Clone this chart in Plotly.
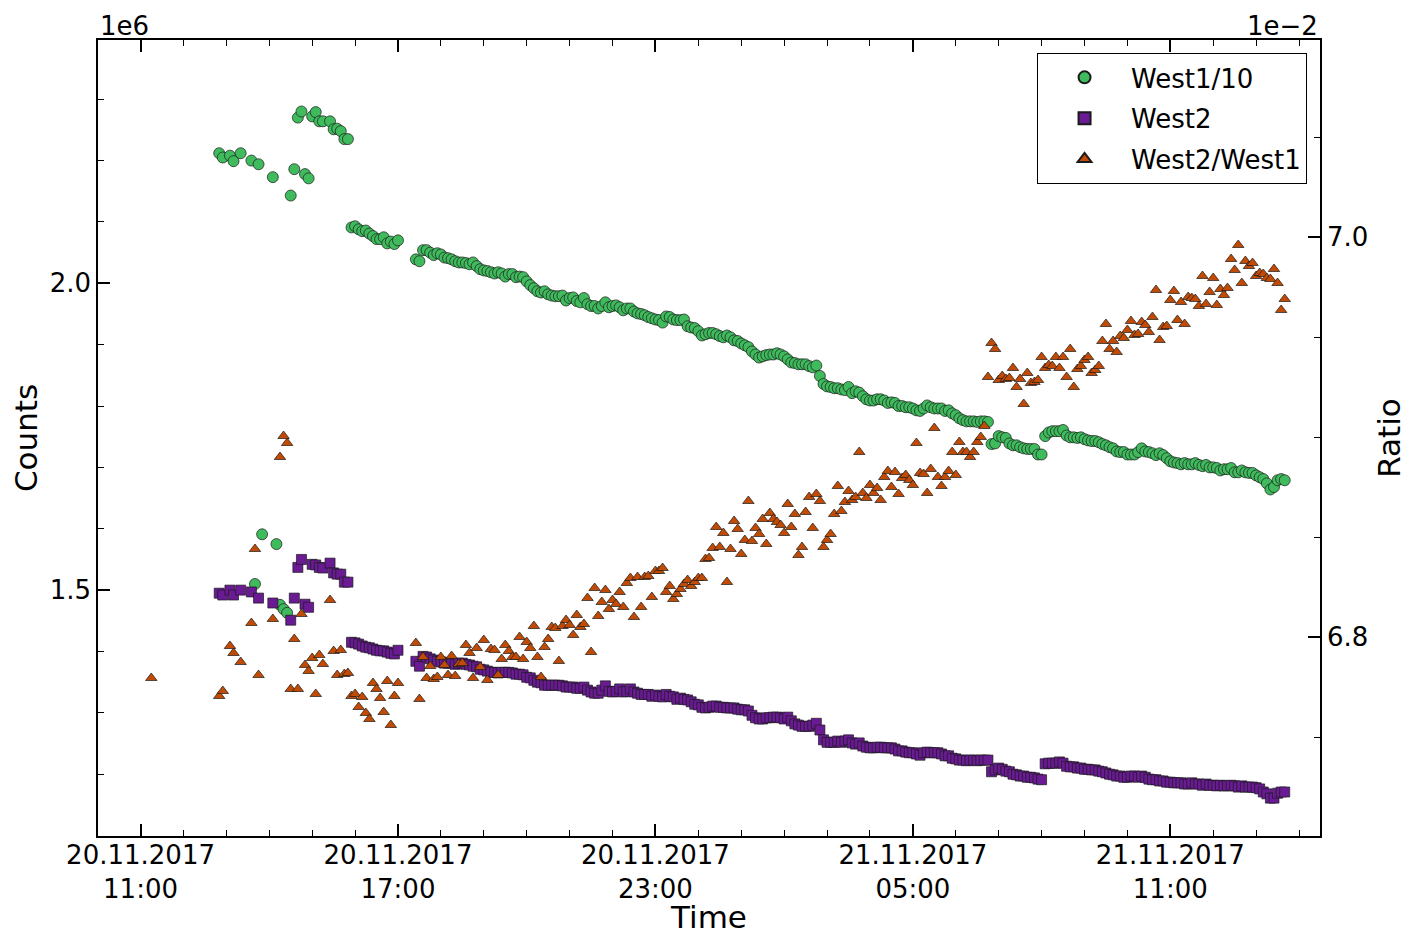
import pandas as pd
import plotly.graph_objects as go

# ---------------- data ----------------
# one isolated early sample, then a regular 5-minute sampling grid
extra_time = ["2017-11-20 11:15"]
grid_time = [t.strftime("%Y-%m-%d %H:%M") for t in pd.date_range("2017-11-20 12:50", periods=299, freq="5min")]
time = extra_time + grid_time

# West1/10 counts, in units of 1e6
west1_div10 = [None] + [
    2.212, 2.205, None, 2.208, 2.199, None, 2.212, None, None, 2.200,
    1.510, 2.194, 1.591, None, None, 2.173, 1.575, 1.476, 1.469, 1.463,
    2.143, 2.186, 2.270, 2.280, 2.178, 2.171, 2.272, 2.279, 2.264, 2.264,
    None, 2.264, 2.251, 2.252, 2.248, 2.235, 2.235, 2.091, 2.093, 2.088,
    2.085, 2.086, 2.081, 2.077, 2.072, 2.072, 2.075, 2.065, 2.068, 2.064,
    2.070, None, None, None, None, 2.039, 2.036, 2.054, 2.054, 2.050,
    2.046, 2.049, 2.047, 2.042, 2.041, 2.039, 2.036, 2.034, 2.034, 2.033,
    2.031, 2.034, 2.028, 2.023, 2.021, 2.020, 2.018, 2.016, 2.018, 2.016,
    2.011, 2.015, 2.015, 2.010, 2.011, 2.010, 2.003, 1.997, 1.992, 1.987,
    1.985, 1.987, 1.982, 1.980, 1.979, 1.979, 1.980, 1.972, 1.976, 1.977,
    1.971, 1.969, 1.976, 1.966, 1.963, 1.963, 1.959, 1.963, 1.969, 1.961,
    1.963, 1.964, 1.961, 1.956, 1.959, 1.959, 1.954, 1.951, 1.950, 1.948,
    1.945, 1.943, 1.941, 1.940, 1.936, 1.946, 1.945, 1.941, 1.940, 1.940,
    1.941, 1.930, 1.928, 1.927, 1.922, 1.915, 1.917, 1.919, 1.919, 1.917,
    1.914, 1.912, 1.915, 1.912, 1.907, 1.906, 1.902, 1.899, 1.896, 1.889,
    1.884, 1.879, 1.881, 1.883, 1.884, 1.884, 1.886, 1.884, 1.881, 1.876,
    1.871, 1.870, 1.868, 1.868, 1.868, 1.865, 1.863, 1.866, 1.849, 1.836,
    1.832, 1.831, 1.829, 1.829, 1.827, 1.826, 1.831, 1.821, 1.824, 1.822,
    1.816, 1.811, 1.809, 1.809, 1.811, 1.811, 1.809, 1.805, 1.806, 1.805,
    1.800, 1.800, 1.798, 1.798, 1.796, 1.793, 1.792, 1.796, 1.801, 1.798,
    1.796, 1.796, 1.796, 1.792, 1.793, 1.788, 1.785, 1.780, 1.777, 1.775,
    1.775, 1.775, 1.774, 1.775, 1.775, 1.774, 1.738, 1.739, 1.751, 1.749,
    1.748, 1.739, 1.736, 1.736, 1.733, 1.731, 1.730, 1.730, 1.730, 1.721,
    1.721, 1.751, 1.757, 1.759, 1.759, 1.759, 1.761, 1.752, 1.749, 1.749,
    1.748, 1.749, 1.746, 1.744, 1.743, 1.743, 1.741, 1.738, 1.736, 1.733,
    1.731, 1.726, 1.725, 1.725, 1.721, 1.721, 1.721, 1.725, 1.731, 1.726,
    1.725, 1.723, 1.720, 1.723, 1.720, 1.715, 1.710, 1.708, 1.707, 1.705,
    1.707, 1.705, 1.705, 1.707, 1.704, 1.702, 1.704, 1.700, 1.700, 1.699,
    1.695, 1.697, 1.697, 1.699, 1.692, 1.692, 1.695, 1.692, 1.691, 1.691,
    1.687, 1.684, 1.681, 1.674, 1.664, 1.668, 1.679, 1.681, 1.679,
]

# West2 counts, in units of 1e6
west2 = [None] + [
    1.495, 1.492, None, 1.500, 1.492, None, 1.500, None, None, 1.497,
    None, 1.487, None, None, None, 1.479, None, None, None, None,
    1.451, 1.487, 1.537, 1.550, 1.477, 1.472, 1.542, 1.541, 1.537, 1.536,
    None, 1.544, 1.528, 1.526, 1.526, 1.513, 1.513, 1.415, 1.414, 1.412,
    1.409, 1.407, 1.406, 1.404, 1.402, 1.401, 1.401, 1.399, 1.397, 1.396,
    1.402, None, None, None, None, 1.384, 1.376, 1.392, 1.391, 1.388,
    1.386, 1.384, 1.383, 1.381, 1.381, 1.381, 1.379, 1.381, 1.381, 1.379,
    1.378, 1.376, 1.375, 1.371, 1.370, 1.368, 1.366, 1.366, 1.365, 1.366,
    1.366, 1.366, 1.365, 1.363, 1.363, 1.362, 1.358, 1.357, 1.353, 1.350,
    1.349, 1.345, 1.345, 1.345, 1.345, 1.345, 1.344, 1.342, 1.342, 1.342,
    1.340, 1.340, 1.342, 1.337, 1.334, 1.332, 1.332, 1.337, 1.344, 1.335,
    1.334, 1.335, 1.339, 1.334, 1.335, 1.339, 1.334, 1.332, 1.330, 1.330,
    1.330, 1.327, 1.329, 1.327, 1.326, 1.330, 1.327, 1.326, 1.322, 1.324,
    1.322, 1.321, 1.318, 1.314, 1.313, 1.309, 1.308, 1.309, 1.311, 1.311,
    1.309, 1.309, 1.308, 1.308, 1.308, 1.306, 1.305, 1.305, 1.303, 1.296,
    1.292, 1.290, 1.290, 1.292, 1.292, 1.293, 1.293, 1.292, 1.290, 1.293,
    1.287, 1.282, 1.280, 1.278, 1.278, 1.278, 1.280, 1.283, 1.272, 1.256,
    1.252, 1.252, 1.252, 1.254, 1.252, 1.254, 1.256, 1.251, 1.249, 1.251,
    1.246, 1.244, 1.243, 1.243, 1.244, 1.244, 1.243, 1.243, 1.243, 1.241,
    1.238, 1.238, 1.236, 1.235, 1.235, 1.233, 1.231, 1.235, 1.236, 1.235,
    1.235, 1.235, 1.233, 1.230, 1.230, 1.226, 1.225, 1.223, 1.223, 1.222,
    1.223, 1.223, 1.222, 1.223, 1.223, 1.223, 1.204, 1.207, 1.210, 1.208,
    1.205, 1.204, 1.200, 1.199, 1.197, 1.197, 1.195, 1.195, 1.194, 1.192,
    1.191, 1.217, 1.218, 1.218, 1.218, 1.220, 1.218, 1.213, 1.212, 1.212,
    1.210, 1.210, 1.208, 1.208, 1.207, 1.207, 1.205, 1.204, 1.202, 1.200,
    1.199, 1.197, 1.197, 1.195, 1.195, 1.197, 1.197, 1.195, 1.197, 1.195,
    1.192, 1.191, 1.191, 1.189, 1.189, 1.187, 1.187, 1.186, 1.186, 1.186,
    1.184, 1.184, 1.186, 1.184, 1.184, 1.182, 1.184, 1.182, 1.182, 1.181,
    1.182, 1.181, 1.181, 1.182, 1.181, 1.179, 1.181, 1.179, 1.179, 1.179,
    1.178, 1.176, 1.171, 1.168, 1.161, 1.161, 1.169, 1.171, 1.171,
]

# West2/West1 ratio, in units of 1e-2
ratio = [6.7795] + [
    6.7705, 6.773, None, 6.7955, 6.792, None, 6.7875, None, None, 6.807,
    6.844, 6.781, None, None, None, 6.809, None, 6.890, 6.9005, 6.897,
    6.774, 6.799, 6.774, 6.8115, 6.786, 6.783, 6.7895, 6.7715, 6.791, 6.7865,
    None, 6.8185, 6.793, 6.781, 6.7935, 6.7815, 6.782, 6.7705, 6.7715, 6.765,
    6.770, 6.762, 6.759, 6.777, 6.774, 6.7695, 6.7625, 6.778, 6.756, 6.7705,
    6.777, None, None, None, None, 6.797, 6.769, 6.790, 6.7795, 6.7855,
    6.779, 6.780, 6.790, 6.786, 6.781, 6.7905, 6.7805, 6.7865, 6.787, 6.796,
    6.792, 6.7795, 6.7945, 6.785, 6.7985, 6.7785, 6.794, 6.7935, 6.781, 6.789,
    6.796, 6.793, 6.790, 6.790, 6.800, 6.789, 6.7975, 6.7945, 6.8055, 6.790,
    6.780, 6.795, 6.799, 6.805, 6.8045, 6.788, 6.8055, 6.8085, 6.806, 6.801,
    6.811, 6.805, 6.8065, 6.8195, 6.7925, 6.8245, 6.8105, 6.8175, 6.8235, 6.814,
    6.8185, 6.8165, 6.8225, 6.815, 6.827, 6.8295, 6.810, 6.830, 6.815, 6.830,
    6.8305, 6.820, 6.833, 6.833, 6.8345, 6.8225, 6.8255, 6.819, 6.8215, 6.824,
    6.8265, 6.8285, 6.8255, 6.8275, 6.8295, 6.8295, 6.839, 6.8395, 6.8445, 6.855,
    6.845, 6.852, 6.8275, 6.844, 6.858, 6.854, 6.8415, 6.8485, 6.868, 6.848,
    6.8545, 6.8515, 6.859, 6.8465, 6.862, 6.859, 6.8575, 6.856, 6.852, 6.8665,
    6.855, 6.8615, 6.841, 6.845, 6.8625, 6.870, 6.8545, 6.8715, 6.868, 6.845,
    6.8485, 6.8515, 6.8615, 6.8755, 6.863, 6.8675, 6.873, 6.8685, 6.870, 6.8925,
    6.872, 6.8695, 6.876, 6.872, 6.8745, 6.8685, 6.880, 6.883, 6.875, 6.8825,
    6.8715, 6.8795, 6.881, 6.8785, 6.876, 6.897, 6.882, 6.8815, 6.872, 6.884,
    6.9045, 6.880, 6.8755, 6.880, 6.883, 6.8925, 6.881, 6.8975, 6.8925, 6.8925,
    6.890, 6.8925, 6.8975, 6.900, 6.9055, 6.930, 6.947, 6.944, 6.9285, 6.9305,
    6.929, 6.9295, 6.9345, 6.925, 6.929, 6.9165, 6.932, 6.927, 6.9275, 6.9285,
    6.940, 6.9345, 6.936, 6.9355, 6.940, 6.9345, 6.940, 6.930, 6.944, 6.925,
    6.934, 6.9355, 6.9385, 6.940, 6.932, 6.9335, 6.9355, 6.948, 6.9565, 6.944,
    6.948, 6.9425, 6.9505, 6.9495, 6.9535, 6.958, 6.951, 6.9515, 6.9575, 6.956,
    6.9525, 6.960, 6.9735, 6.9485, 6.955, 6.9555, 6.9685, 6.973, 6.9585, 6.9675,
    6.9565, 6.970, 6.9695, 6.969, 6.9655, 6.9805, 6.9665, 6.9725, 6.9795, 6.966,
    6.974, 6.971, 6.9745, 6.989, 6.9835, 6.996, 6.977, 6.988, 6.9855, 6.987,
    6.9805, 6.982, 6.9815, 6.9795, 6.979, 6.984, 6.977, 6.9635, 6.969,
]

tick_times = ["2017-11-20 11:00", "2017-11-20 17:00", "2017-11-20 23:00",
              "2017-11-21 05:00", "2017-11-21 11:00"]
tick_labels = ["20.11.2017<br>11:00", "20.11.2017<br>17:00", "20.11.2017<br>23:00",
               "21.11.2017<br>05:00", "21.11.2017<br>11:00"]

# ---------------- figure ----------------
FONT = "DejaVu Sans"
edge = dict(color="#1a1a1a", width=0.7)

fig = go.Figure()
fig.add_trace(go.Scatter(
    x=time, y=west1_div10, mode="markers", name="West1/10", legendgroup="a",
    marker=dict(symbol="circle", size=11, color="#3fba5c", line=edge), yaxis="y"))
fig.add_trace(go.Scatter(
    x=time, y=west2, mode="markers", name="West2", legendgroup="b",
    marker=dict(symbol="square", size=10, color="#6a1b94", line=edge), yaxis="y"))
fig.add_trace(go.Scatter(
    x=time, y=ratio, mode="markers", name="West2/West1", legendgroup="c",
    marker=dict(symbol="triangle-up", size=10, color="#c14a04", line=edge), yaxis="y2"))

axis_common = dict(
    showgrid=False, zeroline=False, showline=True, linecolor="black", linewidth=1.5,
    ticks="inside", ticklen=12, tickwidth=2, tickcolor="black",
    tickfont=dict(family=FONT, size=26, color="black"),
)
minor_common = dict(ticks="inside", ticklen=6, tickwidth=1, tickcolor="black", showgrid=False)

fig.update_layout(
    width=1408, height=935,
    margin=dict(l=98, r=88, t=40, b=99, autoexpand=False),
    plot_bgcolor="white", paper_bgcolor="white",
    font=dict(family=FONT, size=26, color="black"),
    legend=dict(x=0.9894, y=0.9837, xanchor="right", yanchor="top",
                bordercolor="black", borderwidth=1, bgcolor="white",
                font=dict(family=FONT, size=26, color="black"),
                tracegroupgap=4, itemwidth=83, itemsizing="constant"),
    xaxis=dict(**axis_common,
               range=["2017-11-20 10:00:30", "2017-11-21 14:29:20"],
               tickmode="array", tickvals=tick_times, ticktext=tick_labels,
               mirror="ticks", ticklabelstandoff=-5,
               minor=dict(**minor_common, dtick=3600000, tick0="2017-11-20 11:00"),
               title=dict(text="Time", font=dict(family=FONT, size=31), standoff=9)),
    yaxis=dict(**axis_common,
               range=[1.0993, 2.3965], tick0=0, dtick=0.5, tickformat=".1f",
               minor=dict(**minor_common, tick0=0, dtick=0.1),
               title=dict(text="Counts", font=dict(family=FONT, size=31), standoff=3)),
    yaxis2=dict(**axis_common,
                overlaying="y", side="right", anchor="x",
                range=[6.7005, 7.0985], tick0=0, dtick=0.2, tickformat=".1f",
                minor=dict(**minor_common, tick0=0, dtick=0.05),
                title=dict(text="Ratio", font=dict(family=FONT, size=31), standoff=11)),
    annotations=[
        dict(text="1e6", xref="paper", yref="paper", x=0, y=1, xanchor="left", yanchor="bottom",
             showarrow=False, font=dict(family=FONT, size=26, color="black"), yshift=-3),
        dict(text="1e\u22122", xref="paper", yref="paper", x=1, y=1, xanchor="right", yanchor="bottom",
             showarrow=False, font=dict(family=FONT, size=26, color="black"), yshift=-3),
    ],
)

fig.write_html("out.html")
